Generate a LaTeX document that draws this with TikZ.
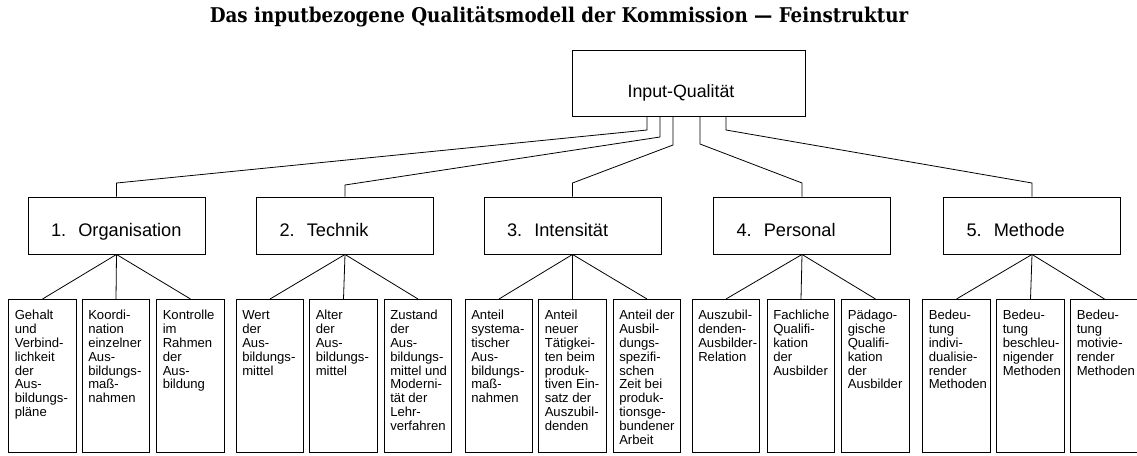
\documentclass[tikz,border=0pt]{standalone}
\usepackage{fontspec}
\setmainfont{Liberation Sans}
\newfontfamily\titlefont{DejaVu Serif Condensed}
\newcommand{\lf}[1]{\parbox[t][153pt][t]{67.5pt}{\raggedright\leftskip=6pt\exhyphenpenalty=10000\hyphenpenalty=10000\lineskiplimit=-50pt\rule{0pt}{20.5pt}#1}}
\begin{document}
\begin{tikzpicture}[x=1pt,y=-1pt,
  conn/.style={line width=0.8pt},
  topbox/.style={draw, line width=0.9pt, minimum width=233pt, minimum height=66pt, inner sep=0pt,
     font=\fontsize{17.8}{20}\selectfont, text height=28pt, text depth=0pt},
  catbox/.style={draw, line width=0.9pt, minimum width=177pt, minimum height=57pt, inner xsep=23pt, inner ysep=0pt,
     text width=131pt, align=left, font=\fontsize{18.2}{20}\selectfont, text height=21pt, text depth=0pt},
  leaf/.style={draw, line width=0.9pt, anchor=north, inner sep=0pt,
     font=\fontsize{13.1}{13.8}\selectfont}]
\useasboundingbox (0,0) rectangle (1137,455);
\node[anchor=base, font=\titlefont\bfseries\fontsize{20.3}{22}\selectfont] (title) at (559,22)
  {Das inputbezogene Qualitätsmodell der Kommission — Feinstruktur};
\node[topbox] (top) at (688.5,83) {\hspace*{-15pt}Input-Qualität};
\node[catbox] (k1) at (116.5,225.5) {1.\ \ Organisation};
\node[catbox] (k2) at (345,225.5) {2.\ \ Technik};
\node[catbox] (k3) at (572.5,225.5) {3.\ \ Intensität};
\node[catbox] (k4) at (802,225.5) {4.\ \ Personal};
\node[catbox] (k5) at (1032,225.5) {5.\ \ Methode};
\coordinate (d1) at (647,130);
\coordinate (d2) at (660,137);
\coordinate (d3) at (673,145);
\coordinate (d4) at (700,144);
\coordinate (d5) at (726,130);
\coordinate (e1) at (0,183);
\coordinate (e2) at (0,185);
\draw[conn] (top.south -| d1) -- (d1) -- (k1.north |- e1) -- (k1.north);
\draw[conn] (top.south -| d2) -- (d2) -- (k2.north |- e2) -- (k2.north);
\draw[conn] (top.south -| d3) -- (d3) -- (k3.north |- e1) -- (k3.north);
\draw[conn] (top.south -| d4) -- (d4) -- (k4.north |- e1) -- (k4.north);
\draw[conn] (top.south -| d5) -- (d5) -- (k5.north |- e1) -- (k5.north);
% group 1
\node[leaf] (l11) at (42.5,299) {\lf{Gehalt\\und\\Verbind-\\lichkeit\\der\\Aus-\\bildungs-\\pläne}};
\node[leaf] (l12) at (116,299) {\lf{Koordi-\\nation\\einzelner\\Aus-\\bildungs-\\maß-\\nahmen}};
\node[leaf] (l13) at (190.5,299) {\lf{Kontrolle\\im\\Rahmen\\der\\Aus-\\bildung}};
% group 2
\node[leaf] (l21) at (270,299) {\lf{Wert\\der\\Aus-\\bildungs-\\mittel}};
\node[leaf] (l22) at (343.5,299) {\lf{Alter\\der\\Aus-\\bildungs-\\mittel}};
\node[leaf] (l23) at (418,299) {\lf{Zustand\\der\\Aus-\\bildungs-\\mittel und\\Moderni-\\tät der\\Lehr-\\verfahren}};
% group 3
\node[leaf] (l31) at (499,299) {\lf{Anteil\\systema-\\tischer\\Aus-\\bildungs-\\maß-\\nahmen}};
\node[leaf] (l32) at (572.5,299) {\lf{Anteil\\neuer\\Tätigkei-\\ten beim\\produk-\\tiven Ein-\\satz der\\Auszubil-\\denden}};
\node[leaf] (l33) at (647,299) {\lf{Anteil der\\Ausbil-\\dungs-\\spezifi-\\schen\\Zeit bei\\produk-\\tionsge-\\bundener\\Arbeit}};
% group 4
\node[leaf] (l41) at (726,299) {\lf{Auszubil-\\denden-\\Ausbilder-\\Relation}};
\node[leaf] (l42) at (801,299) {\lf{Fachliche\\Qualifi-\\kation\\der\\Ausbilder}};
\node[leaf] (l43) at (875.5,299) {\lf{Pädago-\\gische\\Qualifi-\\kation\\der\\Ausbilder}};
% group 5
\node[leaf] (l51) at (956.5,299) {\lf{Bedeu-\\tung\\indivi-\\dualisie-\\render\\Methoden}};
\node[leaf] (l52) at (1030.5,299) {\lf{Bedeu-\\tung\\beschleu-\\nigender\\Methoden}};
\node[leaf] (l53) at (1104.5,299) {\lf{Bedeu-\\tung\\motivie-\\render\\Methoden}};
\foreach \k in {1,...,5}{
  \foreach \j in {1,2,3}{
    \draw[conn] (k\k.south) -- (l\k\j.north);
  }
}
\end{tikzpicture}
\end{document}
